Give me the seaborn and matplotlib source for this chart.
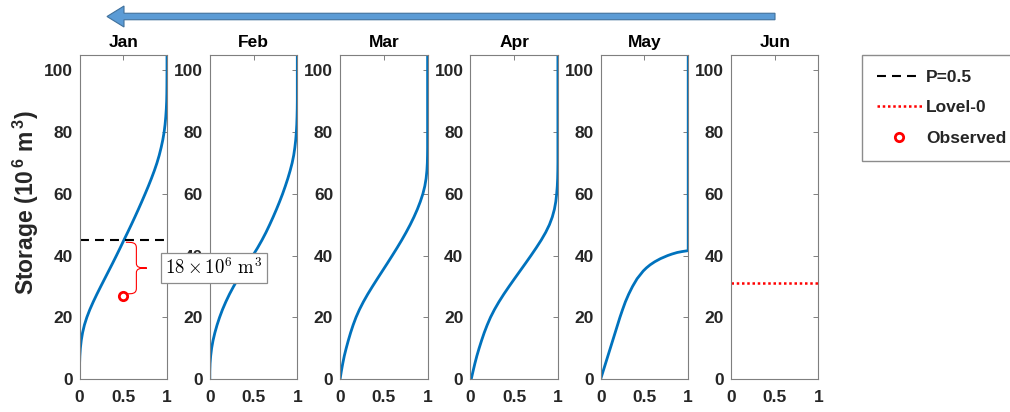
import numpy as np
import matplotlib
matplotlib.use("Agg")
import matplotlib.pyplot as plt
from matplotlib.lines import Line2D
from matplotlib.patches import FancyArrow, PathPatch
from matplotlib.path import Path
import seaborn as sns

# ---- data -------------------------------------------------------------
months = ["Jan", "Feb", "Mar", "Apr", "May", "Jun"]

jan_storage = [0, 2.5, 5, 7.5, 10, 12.5, 15, 17.5, 20, 22.5, 25, 27.5, 30,
               32.5, 35, 37.5, 40, 42.5, 45, 47.5, 50, 52.5, 55, 57.5, 60,
               62.5, 65, 67.5, 70, 72.5, 75, 77.5, 80, 82.5, 85, 87.5, 90,
               92.5, 95, 100, 105]
jan_prob = [0.0, 0.0, 0.001, 0.004, 0.01, 0.02, 0.035, 0.056, 0.084, 0.118,
            0.157, 0.199, 0.243, 0.288, 0.333, 0.378, 0.422, 0.465, 0.507,
            0.55, 0.592, 0.633, 0.673, 0.712, 0.75, 0.787, 0.822, 0.855,
            0.885, 0.911, 0.933, 0.952, 0.967, 0.978, 0.986, 0.992, 0.996,
            0.998, 0.999, 1.0, 1.0]

feb_storage = [0, 2.5, 5, 7.5, 10, 12.5, 15, 17.5, 20, 22.5, 25, 27.5, 30,
               32.5, 35, 37.5, 40, 42.5, 45, 47.5, 50, 52.5, 55, 57.5, 60,
               62.5, 65, 67.5, 70, 72.5, 75, 77.5, 80, 82.5, 85, 87.5, 90,
               105]
feb_prob = [0.0, 0.0, 0.003, 0.01, 0.021, 0.037, 0.058, 0.083, 0.112, 0.145,
            0.183, 0.225, 0.272, 0.322, 0.377, 0.435, 0.492, 0.546, 0.596,
            0.642, 0.684, 0.724, 0.762, 0.798, 0.832, 0.863, 0.892, 0.918,
            0.941, 0.959, 0.972, 0.982, 0.989, 0.994, 0.997, 0.999, 1.0,
            1.0]

mar_storage = [0, 2.5, 5, 7.5, 10, 12.5, 15, 17.5, 20, 22.5, 25, 27.5, 30,
               32.5, 35, 37.5, 40, 42.5, 45, 47.5, 50, 52.5, 55, 57.5, 60,
               62.5, 65, 67.5, 70, 72.5, 75, 105]
mar_prob = [0.0, 0.014, 0.03, 0.048, 0.07, 0.094, 0.12, 0.149, 0.182, 0.221,
            0.266, 0.316, 0.37, 0.426, 0.483, 0.54, 0.596, 0.651, 0.704,
            0.754, 0.801, 0.844, 0.883, 0.917, 0.946, 0.968, 0.983, 0.992,
            0.997, 0.999, 1.0, 1.0]

apr_storage = [0, 2.5, 5, 7.5, 10, 12.5, 15, 17.5, 20, 22.5, 25, 27.5, 30,
               32.5, 35, 37.5, 40, 42.5, 45, 47.5, 50, 52.5, 55, 57.5, 60,
               62.5, 65, 67.5, 70, 105]
apr_prob = [0.01, 0.03, 0.051, 0.074, 0.10, 0.128, 0.158, 0.192, 0.23,
            0.275, 0.326, 0.382, 0.442, 0.504, 0.567, 0.63, 0.692, 0.752,
            0.809, 0.86, 0.903, 0.936, 0.96, 0.976, 0.986, 0.993, 0.997,
            0.999, 1.0, 1.0]

may_storage = [0, 5, 10, 15, 20, 22.5, 25, 27.5, 30, 32.5, 35, 36, 37, 38,
               39, 40, 40.5, 41, 41.3, 41.6, 105]
may_prob = [0.0, 0.055, 0.11, 0.165, 0.22, 0.25, 0.282, 0.32, 0.364, 0.416,
            0.486, 0.522, 0.565, 0.618, 0.683, 0.765, 0.815, 0.875, 0.93,
            1.0, 1.0]

p50_storage = 45          # storage at non-exceedance probability 0.5 (Jan)
observed_prob = 0.5
observed_storage = 27     # observed Jan storage
lovel0_storage = 31       # level-0 storage in Jun

x_ticks = [0, 0.5, 1]
x_ticklabels = ["0", "0.5", "1"]
y_ticks = [0, 20, 40, 60, 80, 100]

# ---- style ------------------------------------------------------------
sns.set_style("white")
plt.rcParams["font.family"] = ["Liberation Sans", "DejaVu Sans"]
plt.rcParams["font.weight"] = "bold"
plt.rcParams["mathtext.fontset"] = "custom"
plt.rcParams["mathtext.rm"] = "Liberation Sans:bold"
plt.rcParams["mathtext.bf"] = "Liberation Sans:bold"

BLUE = "#0072BD"
FRAME = "#7f7f7f"
TEXT = "#262626"

fig = plt.figure(figsize=(10.10, 4.12), dpi=100)

curves = {
    "Jan": (jan_prob, jan_storage),
    "Feb": (feb_prob, feb_storage),
    "Mar": (mar_prob, mar_storage),
    "Apr": (apr_prob, apr_storage),
    "May": (may_prob, may_storage),
}

W, H = 1010.0, 412.0
axes = []
for i, m in enumerate(months):
    left = (79.5 + 130.3 * i) / W
    ax = fig.add_axes([left, 33 / H, 87.5 / W, 324 / H])
    axes.append(ax)
    if m in curves:
        px, sy = curves[m]
        sns.lineplot(x=px, y=sy, ax=ax, color=BLUE, lw=2.0,
                     estimator=None, sort=False)
    ax.set_xlim(0, 1)
    ax.set_ylim(0, 105)
    ax.set_xticks(x_ticks)
    ax.set_xticklabels(x_ticklabels)
    ax.set_yticks(y_ticks)
    ax.set_xlabel("")
    ax.set_ylabel("")
    ax.tick_params(direction="in", top=True, right=True, length=3.5,
                   width=0.7, color=FRAME, labelsize=12.5,
                   labelcolor=TEXT)
    ax.tick_params(axis="y", pad=5)
    ax.tick_params(axis="x", pad=8)
    for lab in ax.get_xticklabels() + ax.get_yticklabels():
        lab.set_fontweight("bold")
    for sp in ax.spines.values():
        sp.set_visible(True)
        sp.set_color(FRAME)
        sp.set_linewidth(0.8)
    ax.set_title(m, fontsize=12.5, fontweight="bold", color="black", pad=5.5)

# Jan: median line, observed storage and the gap between them
ax0 = axes[0]
sns.lineplot(x=[0, 1], y=[p50_storage, p50_storage], ax=ax0, color="black",
             lw=1.5, linestyle=(0, (4.3, 2.9)), estimator=None)
ax0.plot([observed_prob], [observed_storage], "o", ms=6, mew=2,
         mfc="none", mec="red", zorder=5)

top, bot = p50_storage - 0.7, observed_storage + 0.6
mid = (top + bot) / 2
xv, xl, xt = 0.65, 0.53, 0.77
verts = [(xl, top), (0.60, top), (xv, top), (xv, top - 1.8),
         (xv, mid + 1.6),
         (xv, mid + 0.3), (0.68, mid), (xt, mid),
         (0.68, mid), (xv, mid - 0.3), (xv, mid - 1.6),
         (xv, bot + 1.8),
         (xv, bot), (0.60, bot), (xl + 0.01, bot)]
codes = [Path.MOVETO, Path.CURVE4, Path.CURVE4, Path.CURVE4,
         Path.LINETO,
         Path.CURVE4, Path.CURVE4, Path.CURVE4,
         Path.CURVE4, Path.CURVE4, Path.CURVE4,
         Path.LINETO,
         Path.CURVE4, Path.CURVE4, Path.CURVE4]
ax0.add_patch(PathPatch(Path(verts, codes), fill=False, edgecolor="red",
                        lw=0.8, clip_on=False, zorder=6))

gap = p50_storage - observed_storage
fig.text(214 / W, 1 - 268 / H, r"$%d\times10^{6}\ \mathrm{m}^{3}$" % gap,
         math_fontfamily="cm", fontsize=13.5, ha="center", va="center",
         color="black", zorder=20,
         bbox=dict(boxstyle="square,pad=0.25", fc="white", ec="#8c8c8c",
                   lw=0.9))

# Jun: level-0 storage
sns.lineplot(x=[0, 1], y=[lovel0_storage, lovel0_storage], ax=axes[5],
             color="red", lw=1.8, linestyle=(0, (1, 1.1)), estimator=None)

# shared y label
ax0.set_ylabel(r"Storage (10$^{\,6}$ m$^{\,3}$)", fontsize=16.5,
               fontweight="bold", color=TEXT)
ax0.yaxis.set_label_coords(-0.44, 0.545)

# time direction arrow
arrow = FancyArrow(775 / W, 1 - 16.5 / H, -(775 - 107) / W, 0,
                   width=6.5 / H, head_width=21 / H, head_length=17 / W,
                   length_includes_head=True, transform=fig.transFigure,
                   fc="#5B9BD5", ec="#41719C", lw=0.8)
fig.add_artist(arrow)

# legend
handles = [
    Line2D([], [], color="black", lw=1.5, linestyle=(0, (4.3, 2.9))),
    Line2D([], [], color="red", lw=1.8, linestyle=(0, (1, 1.1))),
    Line2D([], [], color="red", marker="o", ms=6, mew=2, mfc="none",
           linestyle="none"),
]
labels = ["P=0.5", "Lovel-0", "Observed"]
fig.legend(handles, labels, loc="upper left",
           bbox_to_anchor=(862 / W, 1 - 55 / H), borderaxespad=0,
           frameon=True, fancybox=False, edgecolor="#8c8c8c",
           framealpha=1, prop=dict(size=12.5, weight="bold"),
           handlelength=2.6, handletextpad=0.25, labelspacing=0.88,
           borderpad=0.85)

fig.savefig("out.png", dpi=100)
